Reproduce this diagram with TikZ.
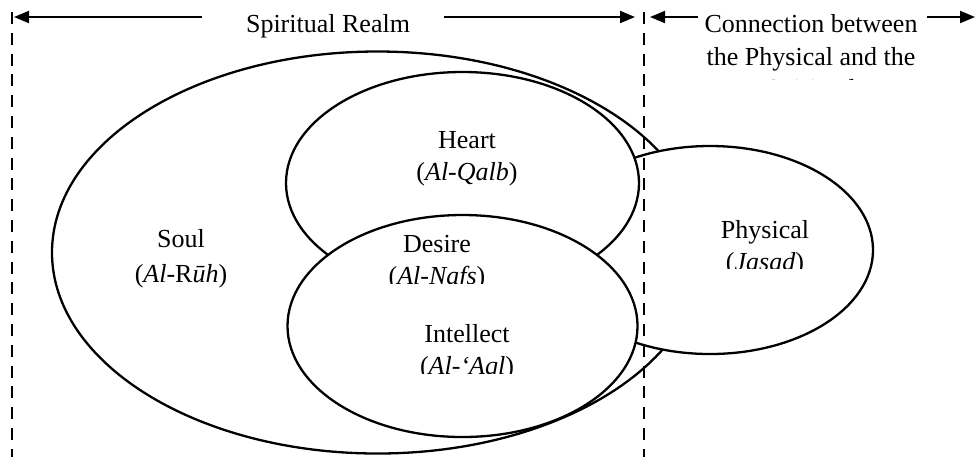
\documentclass[tikz,border=0pt]{standalone}
\usepackage{fontspec}
\setmainfont{Liberation Serif}
\usetikzlibrary{shapes.geometric, arrows.meta}

\tikzset{
  part/.style={ellipse, draw, fill=white, line width=1.15pt, inner sep=0pt},
  txt/.style={anchor=base, inner sep=0pt, font=\fontsize{13}{16.5}\selectfont},
  realmarrow/.style={line width=1pt, -{Triangle[length=7.5pt, width=6pt]}},
  divider/.style={line width=1pt, dash pattern=on 6pt off 4.4pt}
}

\begin{document}
\begin{tikzpicture}[x=0.5pt, y=-0.5pt]
    \useasboundingbox (0,0) rectangle (977,457);

    % Ellipses, back to front
    \node[part, minimum width=325.5pt, minimum height=201pt] (soul) at (377.5,252.5) {};
    \node[part, minimum width=163pt, minimum height=104pt] (physical) at (710,250) {};
    \node[part, minimum width=176.5pt, minimum height=111pt] (heart) at (462.5,183) {};
    \node[part, minimum width=175pt, minimum height=111pt] (intellect) at (462.5,326) {};

    % Labels
    \foreach \n/\x/\y/\t in {soultop/181/247/Soul, soulsub/181/282/{(\textit{Al}-R\textit{ūh})},
        hearttop/467/148/Heart, heartsub/467/180/{(\textit{Al-Qalb})},
        desiretop/437/252/Desire, intellecttop/467/342/Intellect,
        physicaltop/765/238/Physical, realm/328/32/Spiritual Realm,
        linkA/811/32/Connection between, linkB/811/65/the Physical and the} {
        \node[txt] (\n) at (\x,\y) {\t};
    }

    % Second lines cut off by their boxes
    \begin{scope}
        \clip (370,250) rectangle (510,283);
        \node[txt] (desiresub) at (437,284) {(\textit{Al-Nafs})};
    \end{scope}
    \begin{scope}
        \clip (400,350) rectangle (540,373);
        \node[txt] (intellectsub) at (467,374) {(\textit{Al-‘Aql})};
    \end{scope}
    \begin{scope}
        \clip (700,245) rectangle (830,268);
        \node[txt] (physicalsub) at (765,270) {(\textit{Jasad})};
    \end{scope}
    \begin{scope}
        \clip (700,70) rectangle (920,79);
        \node[txt] (linkC) at (811,97) {Spiritual};
    \end{scope}

    % Realm arrows
    \coordinate (realmLa) at (202,17);
    \coordinate (realmLb) at (14,17);
    \coordinate (realmRa) at (444,17);
    \coordinate (realmRb) at (635,17);
    \coordinate (linkLa) at (698,17);
    \coordinate (linkLb) at (650,17);
    \coordinate (linkRa) at (927,17);
    \coordinate (linkRb) at (975,17);
    \draw[realmarrow] (realmLa) -- (realmLb);
    \draw[realmarrow] (realmRa) -- (realmRb);
    \draw[realmarrow] (linkLa) -- (linkLb);
    \draw[realmarrow] (linkRa) -- (linkRb);

    % Dividers
    \coordinate (divAtop) at (12,12);
    \coordinate (divAbot) at (12,457);
    \coordinate (divBtop) at (644,12);
    \coordinate (divBbot) at (644,457);
    \draw[divider] (divAtop) -- (divAbot);
    \draw[divider] (divBtop) -- (divBbot);
\end{tikzpicture}
\end{document}
